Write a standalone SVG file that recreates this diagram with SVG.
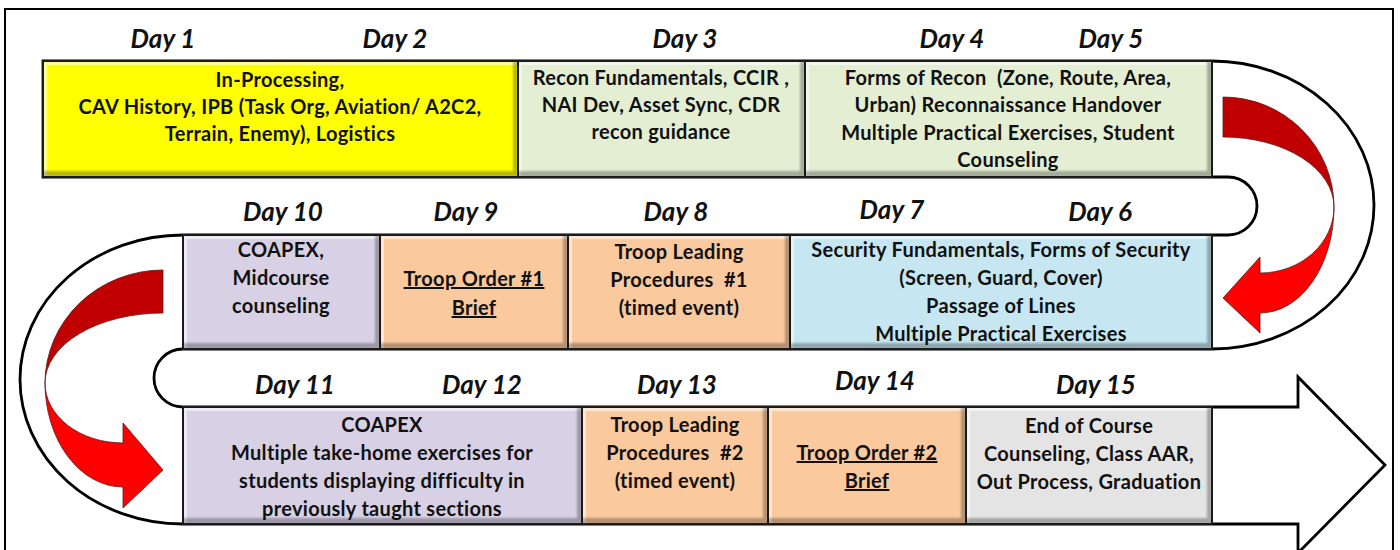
<svg xmlns="http://www.w3.org/2000/svg" width="1400" height="550" viewBox="0 0 1400 550">
<defs>
<style>
.frame{fill:#fff;stroke:#000;stroke-width:2}
.road{fill:#fff;stroke:#000;stroke-width:2.8;stroke-linejoin:miter}
.box{stroke:none;filter:url(#bevel)}
.edge{fill:none;stroke:#1a1a1a;stroke-width:2}
.day{font-family:Lato,"Liberation Sans",sans-serif;font-weight:bold;font-style:italic;font-size:26px;fill:#111;text-anchor:middle}
.t{font-family:Lato,"Liberation Sans",sans-serif;font-weight:bold;font-size:20px;letter-spacing:0.3px;fill:#111;text-anchor:middle;white-space:pre}
.u{text-decoration:underline}
.dark{fill:#C00000;stroke:#5a1a1a;stroke-width:0.8}
.bright{fill:#FF0000;stroke:#5a1a1a;stroke-width:0.8}
</style>
<filter id="bevel" x="0" y="0" width="1" height="1" color-interpolation-filters="sRGB">
<feOffset in="SourceAlpha" dx="4" dy="4" result="o1"/>
<feComposite in="SourceAlpha" in2="o1" operator="out" result="tl"/>
<feFlood flood-color="#fff" flood-opacity="0.55"/>
<feComposite in2="tl" operator="in" result="hi"/>
<feOffset in="SourceAlpha" dx="-5" dy="-6" result="o2"/>
<feComposite in="SourceAlpha" in2="o2" operator="out" result="br"/>
<feFlood flood-color="#000" flood-opacity="0.28"/>
<feComposite in2="br" operator="in" result="sh"/>
<feGaussianBlur in="sh" stdDeviation="1" result="shb"/>
<feMerge><feMergeNode in="SourceGraphic"/><feMergeNode in="hi"/><feMergeNode in="shb"/></feMerge>
</filter>
</defs>

<rect class="frame" x="5" y="9" width="1388" height="570"/>

<path id="track" class="road" d="M43,61 H1212 A162,144 0 0 1 1212,349 H183 A29,29 0 0 0 183,407 H1298 V377 L1385,465 L1298,553 V524 H183 A163,144.5 0 0 1 183,235 H1228 A29,29 0 0 0 1228,177 H43 Z"/>

<g id="connectors">
<path class="dark" d="M1223,97 A111,110 0 0 1 1334,207 A111,70 0 0 0 1223,137 Z"/>
<path class="bright" d="M1334,207 A74,106 0 0 1 1260,313 L1260,333 L1223,298 L1260,257 L1260,273 A74,66 0 0 0 1334,207 Z"/>
<path class="dark" d="M163,270 A118,113 0 0 0 45,383 A118,70 0 0 1 163,313 Z"/>
<path class="bright" d="M45,383 A78,104 0 0 0 123,487 L123,508 L163,470 L123,423 L123,443 A78,60 0 0 1 45,383 Z"/>
</g>

<g id="day-labels">
<text class="day" x="163" y="48">Day 1</text>
<text class="day" x="395" y="48">Day 2</text>
<text class="day" x="685" y="48">Day 3</text>
<text class="day" x="952" y="48">Day 4</text>
<text class="day" x="1111" y="48">Day 5</text>
<text class="day" x="283" y="221">Day 10</text>
<text class="day" x="466" y="221">Day 9</text>
<text class="day" x="676" y="221">Day 8</text>
<text class="day" x="892" y="219">Day 7</text>
<text class="day" x="1100" y="221">Day 6</text>
<text class="day" x="295" y="394">Day 11</text>
<text class="day" x="482" y="394">Day 12</text>
<text class="day" x="677" y="394">Day 13</text>
<text class="day" x="875" y="390">Day 14</text>
<text class="day" x="1096" y="394">Day 15</text>
</g>

<g id="day1-2">
<rect class="box" x="43" y="61" width="475" height="116" fill="#FFFF00"/>
<rect class="edge" x="43" y="61" width="475" height="116"/>
<text class="t" x="280" y="87">In-Processing,</text>
<text class="t" x="280" y="114">CAV History, IPB (Task Org, Aviation/ A2C2,</text>
<text class="t" x="280" y="141">Terrain, Enemy), Logistics</text>
</g>

<g id="day3">
<rect class="box" x="518" y="61" width="287" height="116" fill="#E3EED3"/>
<rect class="edge" x="518" y="61" width="287" height="116"/>
<text class="t" x="661" y="85">Recon Fundamentals, CCIR ,</text>
<text class="t" x="661" y="112">NAI Dev, Asset Sync, CDR</text>
<text class="t" x="661" y="139">recon guidance</text>
</g>

<g id="day4-5">
<rect class="box" x="805" y="61" width="407" height="116" fill="#E3EED3"/>
<rect class="edge" x="805" y="61" width="407" height="116"/>
<text class="t" x="1008" y="85">Forms of Recon  (Zone, Route, Area,</text>
<text class="t" x="1008" y="112">Urban) Reconnaissance Handover</text>
<text class="t" x="1008" y="140">Multiple Practical Exercises, Student</text>
<text class="t" x="1008" y="167">Counseling</text>
</g>

<g id="day10">
<rect class="box" x="183" y="235" width="197" height="114" fill="#D8D1E6"/>
<rect class="edge" x="183" y="235" width="197" height="114"/>
<text class="t" x="281" y="257">COAPEX,</text>
<text class="t" x="281" y="285">Midcourse</text>
<text class="t" x="281" y="313">counseling</text>
</g>

<g id="day9">
<rect class="box" x="380" y="235" width="188" height="114" fill="#FAC99E"/>
<rect class="edge" x="380" y="235" width="188" height="114"/>
<text class="t u" x="474" y="286">Troop Order #1</text>
<text class="t u" x="474" y="315">Brief</text>
</g>

<g id="day8">
<rect class="box" x="568" y="235" width="222" height="114" fill="#FAC99E"/>
<rect class="edge" x="568" y="235" width="222" height="114"/>
<text class="t" x="679" y="259">Troop Leading</text>
<text class="t" x="679" y="287">Procedures  #1</text>
<text class="t" x="679" y="315">(timed event)</text>
</g>

<g id="day7-6">
<rect class="box" x="790" y="235" width="422" height="114" fill="#C6E7F2"/>
<rect class="edge" x="790" y="235" width="422" height="114"/>
<text class="t" x="1001" y="257">Security Fundamentals, Forms of Security</text>
<text class="t" x="1001" y="285">(Screen, Guard, Cover)</text>
<text class="t" x="1001" y="313">Passage of Lines</text>
<text class="t" x="1001" y="341">Multiple Practical Exercises</text>
</g>

<g id="day11-12">
<rect class="box" x="183" y="407" width="399" height="117" fill="#D8D1E6"/>
<rect class="edge" x="183" y="407" width="399" height="117"/>
<text class="t" x="382" y="432">COAPEX</text>
<text class="t" x="382" y="460">Multiple take-home exercises for</text>
<text class="t" x="382" y="488">students displaying difficulty in</text>
<text class="t" x="382" y="516">previously taught sections</text>
</g>

<g id="day13">
<rect class="box" x="582" y="407" width="186" height="117" fill="#FAC99E"/>
<rect class="edge" x="582" y="407" width="186" height="117"/>
<text class="t" x="675" y="432">Troop Leading</text>
<text class="t" x="675" y="460">Procedures  #2</text>
<text class="t" x="675" y="488">(timed event)</text>
</g>

<g id="day14">
<rect class="box" x="768" y="407" width="198" height="117" fill="#FAC99E"/>
<rect class="edge" x="768" y="407" width="198" height="117"/>
<text class="t u" x="867" y="460">Troop Order #2</text>
<text class="t u" x="867" y="488">Brief</text>
</g>

<g id="day15">
<rect class="box" x="966" y="407" width="246" height="117" fill="#E4E4E4"/>
<rect class="edge" x="966" y="407" width="246" height="117"/>
<text class="t" x="1089" y="433">End of Course</text>
<text class="t" x="1089" y="461">Counseling, Class AAR,</text>
<text class="t" x="1089" y="489">Out Process, Graduation</text>
</g>
</svg>
